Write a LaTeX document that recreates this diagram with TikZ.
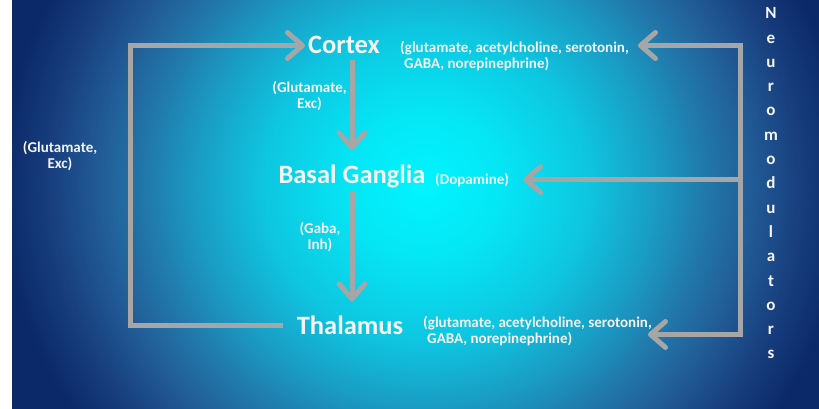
\documentclass[tikz,border=0pt]{standalone}
\usepackage{fontspec}
\setmainfont{Carlito}
\usetikzlibrary{arrows.meta}

% background glow colours, centre to rim
\definecolor{glowA}{HTML}{00F5FF}
\definecolor{glowB}{HTML}{05E6F4}
\definecolor{glowC}{HTML}{0EC6E0}
\definecolor{glowD}{HTML}{1A9CC4}
\definecolor{glowE}{HTML}{2178AA}
\definecolor{glowF}{HTML}{22609A}
\definecolor{glowH}{HTML}{183F7E}
\definecolor{glowG}{HTML}{0B2868}
\definecolor{wire}{HTML}{A6A6A6}
\definecolor{ink}{HTML}{F4F4F4}

% the path's bounding box edge falls at 25bp
\pgfdeclareradialshading{glow}{\pgfpointorigin}{%
  color(0bp)=(glowA); color(4.5bp)=(glowB); color(9.5bp)=(glowC);
  color(13.5bp)=(glowD); color(16.5bp)=(glowE); color(18.75bp)=(glowF);
  color(22bp)=(glowH); color(25bp)=(glowG); color(50bp)=(glowG)}

\tikzset{
  region/.style={text=ink, inner sep=0pt, font=\bfseries\fontsize{26.5}{28}\selectfont},
  note/.style={text=ink, inner sep=0pt, font=\bfseries\fontsize{15}{16.5}\selectfont},
  wireline/.style={draw=wire, line width=5pt, line join=miter},
  barb/.tip={Straight Barb[length=15pt, width=26pt, line cap=round, line join=round]},
  feed/.style={wireline, -barb},
}

\begin{document}
\begin{tikzpicture}[x=1pt, y=-1pt]
\useasboundingbox (0,0) rectangle (819,408);
\fill[white] (-2,-2) rectangle (12,412);

% radial glow background
\begin{scope}
  \clip (12,-2) rectangle (822,412);
  \fill[glowG] (12,-2) rectangle (822,412);
  \shade[shading=glow] (425,185) ellipse [x radius=425, y radius=410];
\end{scope}

% brain regions
\node[region] (cortex) at (344,45) {Cortex};
\node[region, anchor=base] (bg) at (352,183) {Basal Ganglia};
\node[region] (thal) at (350,325) {Thalamus};

% transmitter notes
\node[note, align=left, anchor=north west] (cmod) at (400,41)
  {(glutamate, acetylcholine, serotonin,\\\hspace*{4pt}GABA, norepinephrine)};
\node[note, anchor=base west] (dop) at (435,184) {(Dopamine)};
\node[note, align=left, anchor=north west] (tmod) at (423,316)
  {(glutamate, acetylcholine, serotonin,\\\hspace*{4pt}GABA, norepinephrine)};
\node[note, align=center] (glu1) at (309.5,96) {(Glutamate,\\Exc)};
\node[note, align=center] (gaba) at (320,237) {(Gaba,\\Inh)};
\node[note, align=center] (glu2) at (60,156) {(Glutamate,\\Exc)};

% side label
\node[text=ink, inner sep=0pt, align=center, anchor=north,
      font=\bfseries\fontsize{17}{24.3}\selectfont] (nm) at (771,7.5)
  {N\\e\\u\\r\\o\\m\\o\\d\\u\\l\\a\\t\\o\\r\\s};

% corner points of the feedback and modulator lines
\coordinate (lt) at (130,45.5);
\coordinate (rt) at (740.5,45.5);
\coordinate (rb) at (740.5,334.5);

% direct pathway down the middle
\draw[feed, shorten <=6.5pt, shorten >=14pt] (cortex.south -| bg.north) -- (bg.north);
\draw[feed, shorten <=4.5pt, shorten >=14pt] (bg.south) -- (bg.south |- thal.north);

% thalamus back to cortex
\draw[feed, shorten <=14pt, shorten >=3pt] (thal.west) -| (lt) -- (lt -| cortex.west);

% neuromodulator inputs
\draw[wireline, barb-barb] ([xshift=9pt]rt -| cmod.east) -- (rt) -- (rb)
  -- ([xshift=-4pt]rb -| tmod.east);
\draw[wireline, -barb, shorten >=14pt] (rt |- dop.east) -- (dop.east);
\end{tikzpicture}
\end{document}
